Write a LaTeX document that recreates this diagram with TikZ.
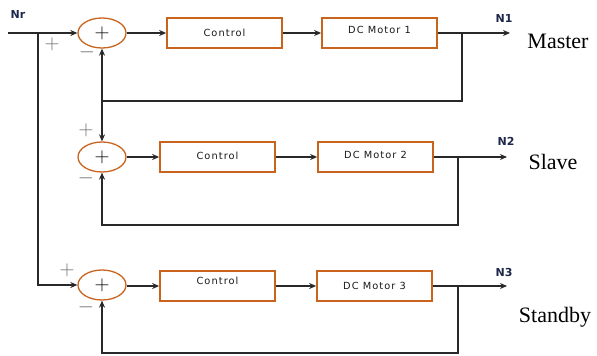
\documentclass[tikz,border=0pt]{standalone}
\usepackage{fontspec}
\usetikzlibrary{shapes.geometric,arrows.meta}
\newfontfamily\boxfont[LetterSpace=11]{DejaVu Sans}
\newfontfamily\tagfont{DejaVu Sans}
\newfontfamily\rolefont{Liberation Serif}
\definecolor{blockorange}{RGB}{200,100,30}
\definecolor{wire}{RGB}{40,40,40}
\definecolor{tagblue}{RGB}{30,40,75}
\definecolor{signgray}{RGB}{110,110,110}
\begin{document}
\begin{tikzpicture}[x=1pt,y=-1pt,
  wireline/.style={draw=wire,line width=1.5pt},
  arr/.style={wireline,-{Stealth[length=7pt,width=6pt]}},
  sumnode/.style={ellipse,draw=blockorange,line width=1.3pt,minimum width=48pt,minimum height=30pt,inner sep=0pt},
  block/.style={rectangle,draw=blockorange,line width=1.7pt,minimum width=115pt,minimum height=30pt,inner sep=0pt,
                font=\boxfont\fontsize{9.8}{11}\selectfont,text=black!90},
  raised/.style={text depth=#1},
  tag/.style={font=\tagfont\bfseries\fontsize{11}{13}\selectfont,text=tagblue},
  role/.style={font=\rolefont\fontsize{22}{24}\selectfont},
  sign/.style={font=\fontsize{20}{20}\selectfont,text=signgray,inner sep=0pt},
  plussign/.style={font=\fontsize{22}{22}\selectfont,text=black}]
\useasboundingbox (0,0) rectangle (597,356);
\fill[white] (0,0) rectangle (597,356);

% summing junctions
\node[sumnode] (s1) at (102,33) {};
\node[sumnode] (s2) at (102,157) {};
\node[sumnode] (s3) at (102,285) {};
\node[plussign] (p1) at (s1) {$+$};
\node[plussign] (p2) at (s2) {$+$};
\node[plussign] (p3) at (s3) {$+$};

% controllers and motors
\node[block] (c1) at (224.5,33) {Control};
\node[block,raised=6pt] (m1) at (379.5,33) {DC Motor 1};
\node[block,raised=3pt] (c2) at (217.5,157) {Control};
\node[block,raised=4pt] (m2) at (375.5,157) {DC Motor 2};
\node[block,raised=11pt] (c3) at (217.5,286) {Control};
\node[block] (m3) at (374.5,286) {DC Motor 3};

% input and branch points
\coordinate (nr) at (8,33);
\coordinate (j0) at (38,33);
\coordinate (o1) at (510,33);
\coordinate (o2) at (507,157);
\coordinate (o3) at (507,286);
\coordinate (b1) at (462,33);
\coordinate (b2) at (458,157);
\coordinate (b3) at (458,286);
\coordinate (f1) at (102,101);
\coordinate (r1) at (462,101);
\coordinate (r2) at (458,225);
\coordinate (r3) at (458,353);

% forward paths
\draw[arr] (nr) -- (s1.west);
\draw[arr] (s1) -- (c1);
\draw[arr] (c1) -- (m1);
\draw[arr] (m1) -- (o1);
\draw[arr] (s2) -- (c2);
\draw[arr] (c2) -- (m2);
\draw[arr] (m2) -- (o2);
\draw[arr] (j0) |- (s3.west);
\draw[arr] (s3.east |- c3) -- (c3);
\draw[arr] (c3) -- (m3);
\draw[arr] (m3) -- (o3);

% feedback loops
\draw[wireline] (b1) -- (r1) -- (f1);
\draw[arr] (f1) -- (s1.south);
\draw[arr] (f1) -- (s2.north);
\draw[arr] (b2) -- (r2) -| (s2.south);
\draw[arr] (b3) -- (r3) -| (s3.south);

% signs at the junction inputs
\node[sign] (sp1) at (52,44) {$+$};
\node[sign] (sm1) at (87,52) {$-$};
\node[sign] (sp2) at (86,130) {$+$};
\node[sign] (sm2) at (86,178) {$-$};
\node[sign] (sp3) at (67,270) {$+$};
\node[sign] (sm3) at (86,307) {$-$};

% signal names
\node[tag] (tnr) at (18,14) {Nr};
\node[tag] (tn1) at (504,18) {N1};
\node[tag] (tn2) at (506,141) {N2};
\node[tag] (tn3) at (504,272) {N3};

% roles
\node[role] (rm) at (558,41) {Master};
\node[role] (rs) at (553,162) {Slave};
\node[role] (rb) at (555,317) {Standby};
\end{tikzpicture}
\end{document}
